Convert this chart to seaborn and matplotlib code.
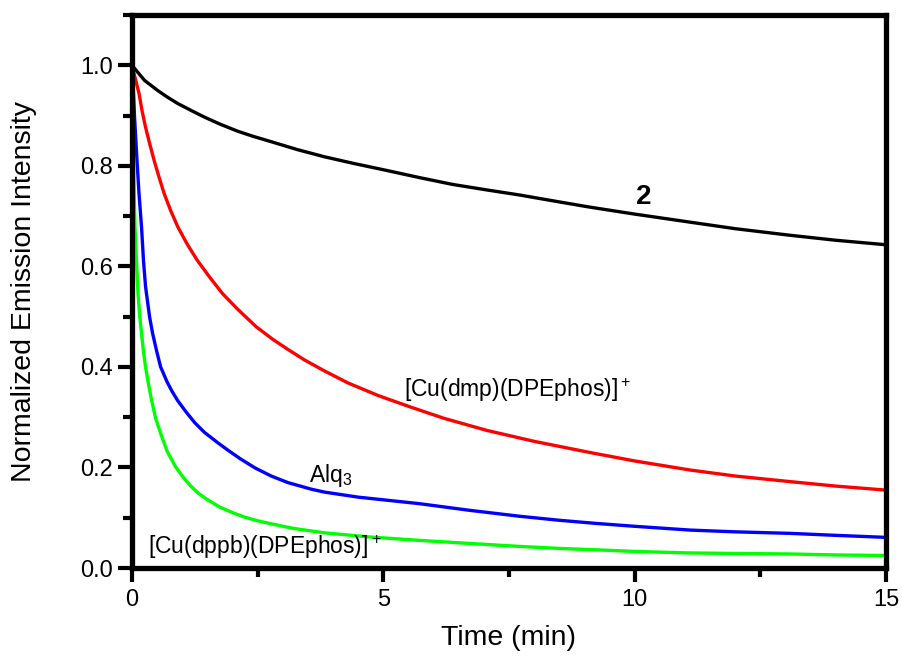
import numpy as np
import pandas as pd
import seaborn as sns
import matplotlib.pyplot as plt
from matplotlib.ticker import MultipleLocator

# Values (time in min, normalized intensity)
t_2 = [0, 0.25, 0.51, 0.7, 0.91, 1.2, 1.44, 1.75, 2.1, 2.4, 2.77, 3.3, 3.83, 4.4, 5.06, 5.7, 6.38, 7.0,
       7.71, 8.4, 9.1, 10.0, 11.1, 12.0, 13.08, 14.0, 15]
y_2 = [1.0, 0.97, 0.95, 0.937, 0.924, 0.909, 0.897, 0.883, 0.869, 0.859, 0.848, 0.832, 0.818, 0.805, 0.791,
       0.777, 0.763, 0.753, 0.742, 0.73, 0.718, 0.704, 0.688, 0.675, 0.662, 0.652, 0.643]

t_dmp = [0, 0.07, 0.14, 0.2, 0.27, 0.35, 0.44, 0.54, 0.64, 0.77, 0.91, 1.1, 1.30, 1.55, 1.80, 2.1, 2.47,
         2.8, 3.1, 3.43, 3.83, 4.3, 4.9, 5.52, 6.2, 7.05, 8.0, 9.1, 10.0, 11.1, 12.0, 13.08, 14.0, 15]
y_dmp = [1.0, 0.972, 0.944, 0.91, 0.877, 0.845, 0.811, 0.777, 0.745, 0.711, 0.679, 0.644, 0.612, 0.578,
         0.546, 0.515, 0.480, 0.455, 0.435, 0.414, 0.392, 0.368, 0.343, 0.321, 0.298, 0.274, 0.252, 0.230,
         0.213, 0.195, 0.183, 0.172, 0.163, 0.155]

t_alq = [0, 0.03, 0.05, 0.10, 0.14, 0.19, 0.23, 0.27, 0.31, 0.35, 0.41, 0.49, 0.57, 0.7, 0.8, 0.91, 1.08,
         1.25, 1.44, 1.71, 1.9, 2.16, 2.45, 2.77, 3.1, 3.56, 3.83, 4.5, 5.72, 6.7, 7.71, 8.5, 9.2, 10.0,
         11.1, 12.0, 13.08, 14.0, 15]
y_alq = [1.0, 0.944, 0.9, 0.811, 0.745, 0.679, 0.61, 0.56, 0.53, 0.50, 0.467, 0.432, 0.400, 0.37, 0.351,
         0.333, 0.31, 0.289, 0.27, 0.249, 0.235, 0.217, 0.199, 0.183, 0.170, 0.157, 0.151, 0.141, 0.128,
         0.115, 0.103, 0.095, 0.089, 0.083, 0.0755, 0.072, 0.069, 0.065, 0.061]

t_dppb = [0, 0.015, 0.03, 0.045, 0.06, 0.09, 0.12, 0.155, 0.19, 0.23, 0.27, 0.33, 0.39, 0.47, 0.57, 0.7,
          0.87, 1.0, 1.17, 1.33, 1.5, 1.75, 2.03, 2.25, 2.5, 2.77, 3.2, 3.83, 4.7, 5.72, 6.7, 7.71, 8.5,
          9.3, 10.0, 11.1, 12.0, 13.08, 14.0, 15]
y_dppb = [1.0, 0.9, 0.811, 0.74, 0.679, 0.61, 0.546, 0.50, 0.467, 0.43, 0.400, 0.365, 0.334, 0.298, 0.268,
          0.232, 0.201, 0.183, 0.163, 0.148, 0.136, 0.121, 0.109, 0.101, 0.094, 0.088, 0.079, 0.070, 0.062,
          0.055, 0.049, 0.043, 0.039, 0.036, 0.033, 0.030, 0.029, 0.028, 0.026, 0.025]

series = ["2", "dmp", "dppb", "alq"]
colors = {"2": "#000000", "dmp": "#ff0000", "alq": "#0000ff", "dppb": "#00ff00"}

df = pd.concat([
    pd.DataFrame({"time": t_2, "intensity": y_2, "series": "2"}),
    pd.DataFrame({"time": t_dmp, "intensity": y_dmp, "series": "dmp"}),
    pd.DataFrame({"time": t_dppb, "intensity": y_dppb, "series": "dppb"}),
    pd.DataFrame({"time": t_alq, "intensity": y_alq, "series": "alq"}),
], ignore_index=True)

sns.set_style("white")
plt.rcParams["font.family"] = ["Liberation Sans", "DejaVu Sans"]
plt.rcParams["mathtext.fontset"] = "custom"
plt.rcParams["mathtext.rm"] = "Liberation Sans"
plt.rcParams["mathtext.default"] = "regular"
plt.rcParams["text.color"] = "black"
plt.rcParams["axes.labelcolor"] = "black"
plt.rcParams["xtick.color"] = "black"
plt.rcParams["ytick.color"] = "black"

fig = plt.figure(figsize=(9.02, 6.56), dpi=100)
ax = fig.add_axes([0.1463, 0.1341, 0.836, 0.843])

sns.lineplot(data=df, x="time", y="intensity", hue="series", hue_order=series,
             palette=colors, estimator=None, sort=False, linewidth=2.4,
             legend=False, ax=ax)

ax.set_xlim(0, 15)
ax.set_ylim(0, 1.1)
ax.xaxis.set_major_locator(MultipleLocator(5))
ax.xaxis.set_minor_locator(MultipleLocator(2.5))
ax.yaxis.set_major_locator(MultipleLocator(0.2))
ax.yaxis.set_minor_locator(MultipleLocator(0.1))
ax.set_yticks([0, 0.2, 0.4, 0.6, 0.8, 1.0])

for sp in ax.spines.values():
    sp.set_visible(True)
    sp.set_color("black")
    sp.set_linewidth(3.8)
    sp.set_capstyle("projecting")

ax.tick_params(axis="both", which="major", direction="out", length=10, width=3,
               labelsize=17, colors="black", labelcolor="black", pad=4, bottom=True, left=True)
ax.tick_params(axis="both", which="minor", direction="out", length=6.3, width=3,
               bottom=True, left=True)
ax.tick_params(axis="x", which="major", pad=5)

ax.set_xlabel("Time (min)", fontsize=20.5, labelpad=10, color="black")
ax.set_ylabel("Normalized Emission Intensity", fontsize=20.5, labelpad=31, color="black")

ax.text(10.19, 0.7237, "2", fontsize=20, fontweight="bold", ha="center", va="baseline")
ax.text(5.42, 0.3406, r"[Cu(dmp)(DPEphos)]$^+$", fontsize=16.5, ha="left", va="baseline")
ax.text(3.53, 0.1716, r"Alq$_3$", fontsize=16.5, ha="left", va="baseline")
ax.text(0.32, 0.028, r"[Cu(dppb)(DPEphos)]$^+$", fontsize=16.5, ha="left", va="baseline")

fig.savefig("out.png", dpi=100)
